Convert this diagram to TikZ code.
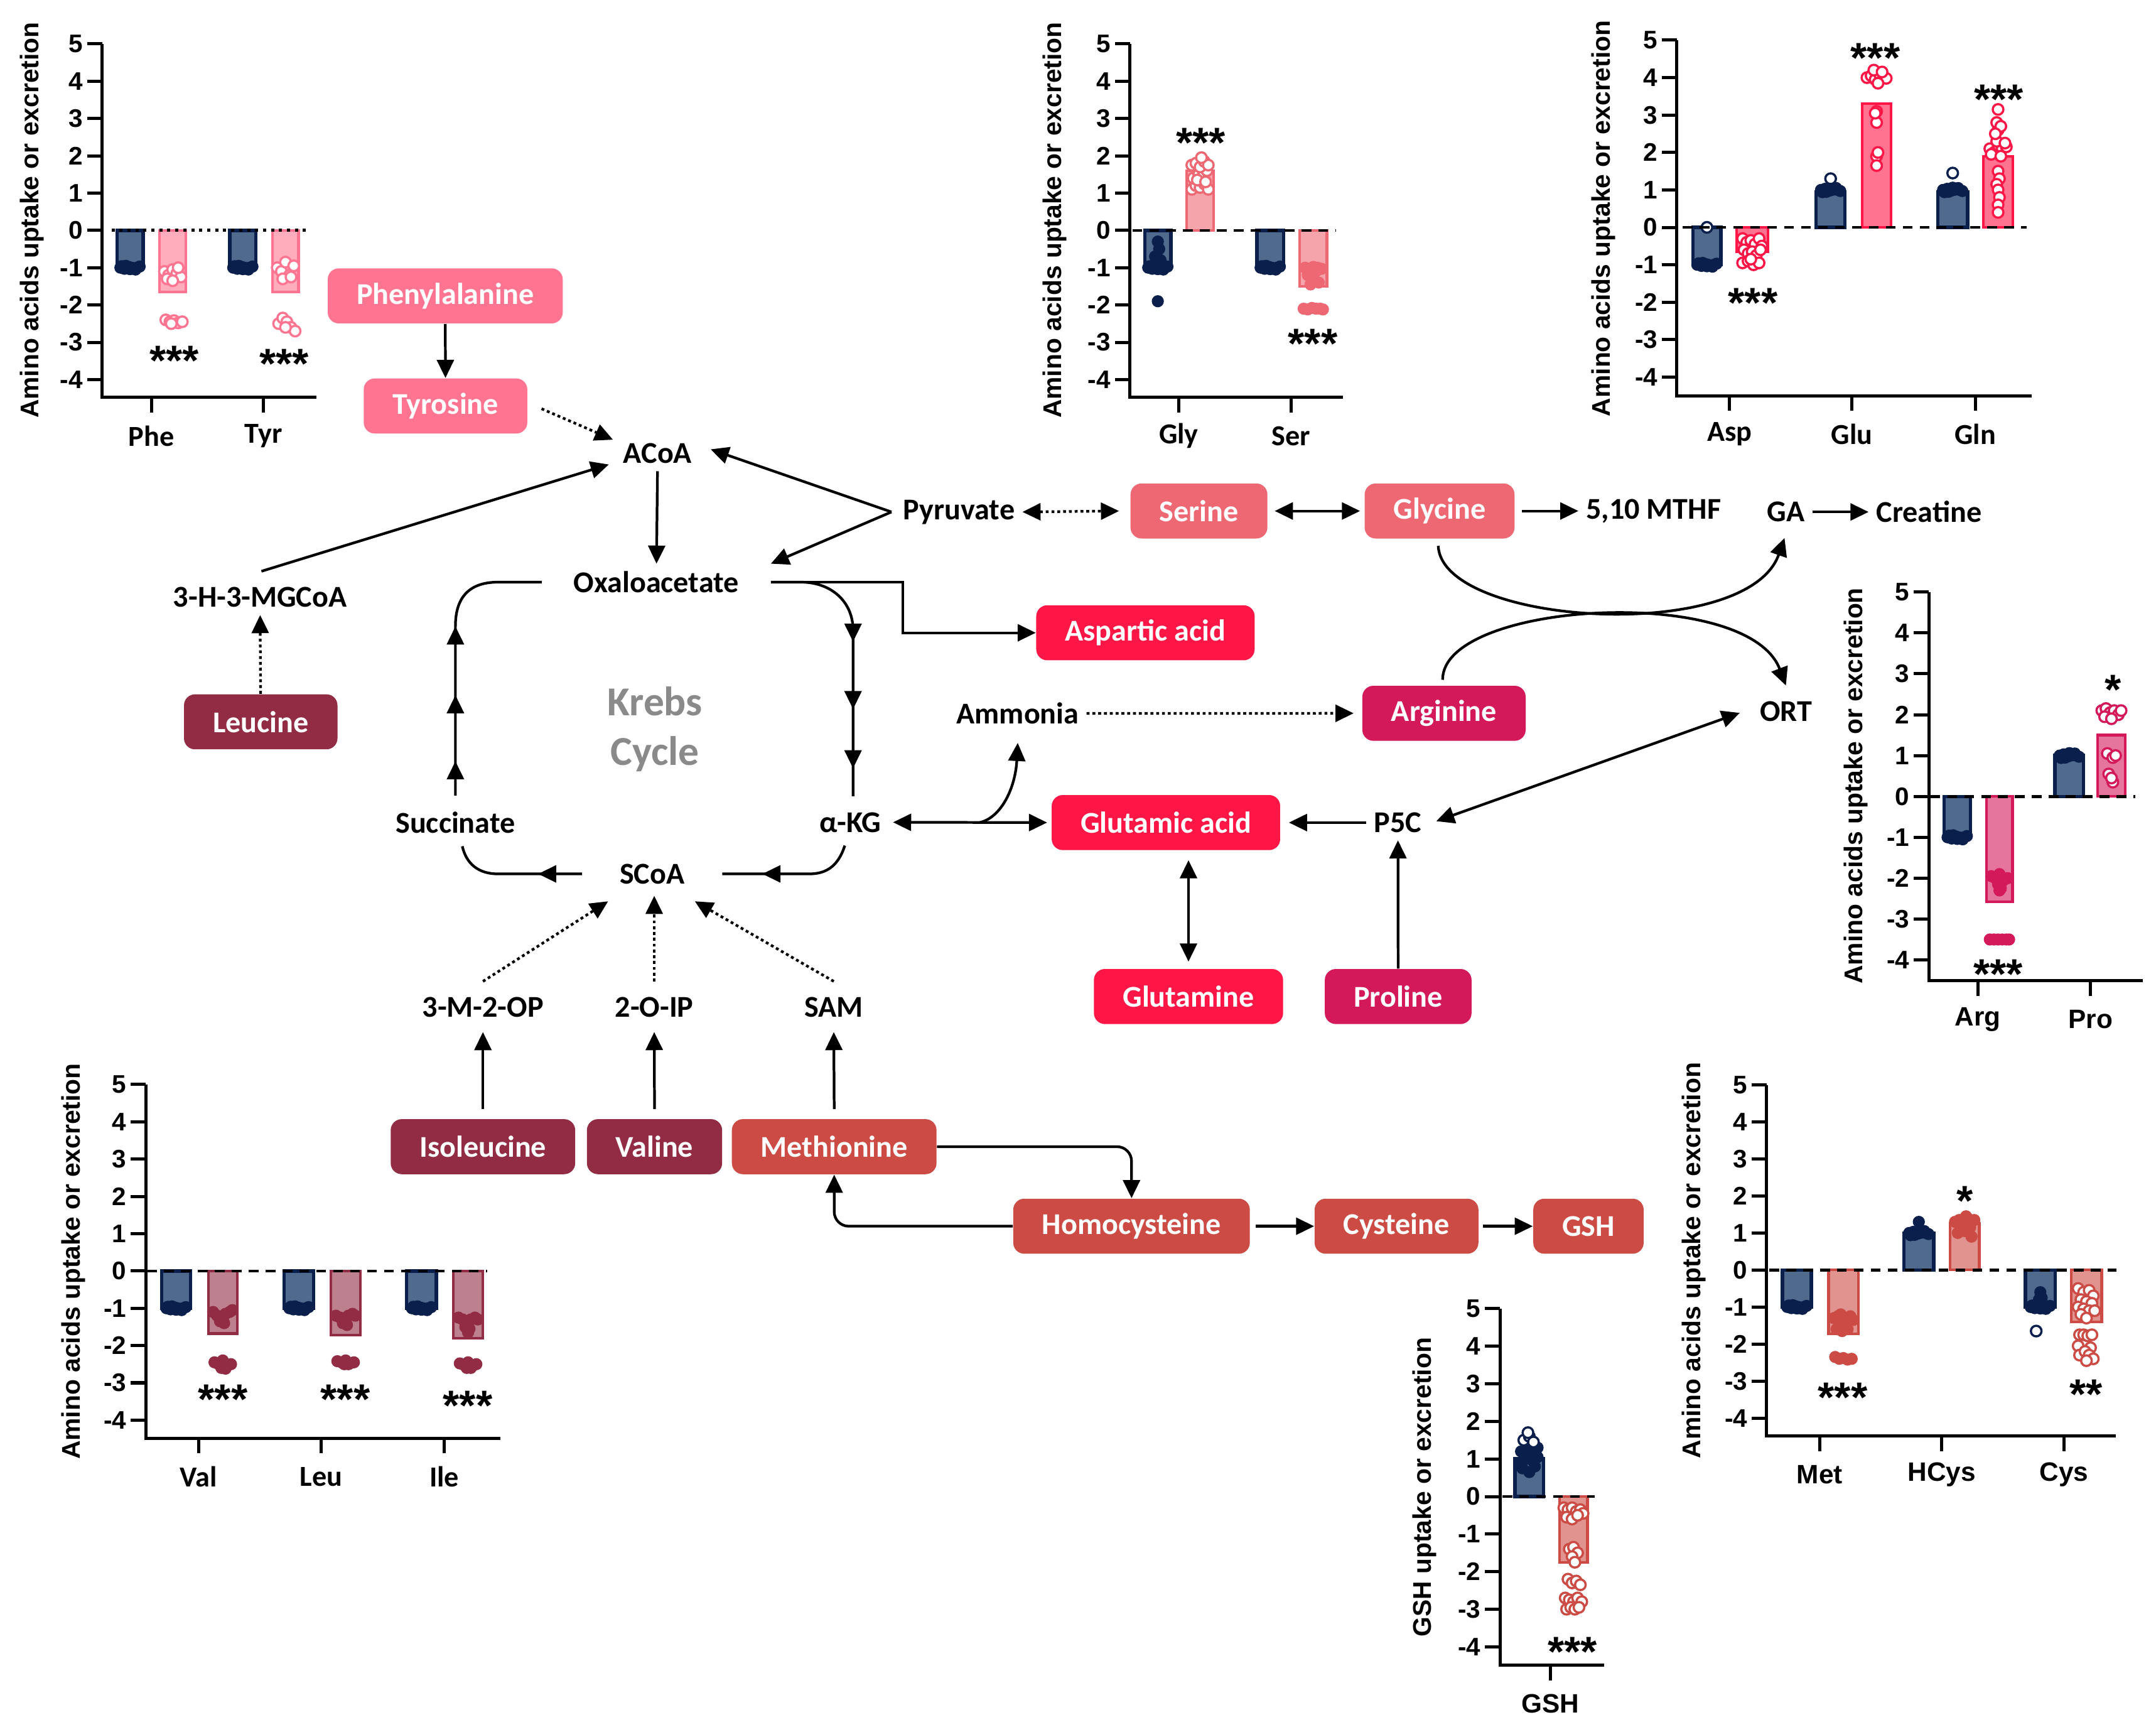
\documentclass[tikz,border=0pt]{standalone}
\usepackage{fontspec}
\setmainfont{Carlito}
\newfontfamily\chartfont{Liberation Sans}
\usetikzlibrary{arrows.meta,calc,decorations.markings}

\definecolor{pheC}{HTML}{FF7591}
\definecolor{serC}{HTML}{EE6873}
\definecolor{gluC}{HTML}{FE1646}
\definecolor{argC}{HTML}{D3195A}
\definecolor{bcaaC}{HTML}{912C44}
\definecolor{metC}{HTML}{CC4B44}
\definecolor{navyC}{HTML}{0B1F4D}
\definecolor{slateC}{HTML}{4F6A8D}
\definecolor{krebsC}{HTML}{8A8A8A}

\newcommand{\labelfont}{\fontsize{12.5}{15}\selectfont\bfseries}
\newcommand{\krebsfont}{\fontsize{17}{20.5}\selectfont\bfseries}
\newcommand{\tickfont}{\chartfont\fontsize{10.5}{12}\selectfont\bfseries}
\newcommand{\titlefont}{\chartfont\fontsize{10.6}{12}\selectfont\bfseries}
\newcommand{\catfont}{\fontsize{12}{14}\selectfont\bfseries}
\newcommand{\catfontb}{\chartfont\fontsize{11}{13}\selectfont\bfseries}
\newcommand{\starfont}{\chartfont\fontsize{17.5}{19}\selectfont\bfseries}

\tikzset{
  aabox/.style={rounded corners=0.16cm, minimum height=0.8cm, inner xsep=0.42cm, inner ysep=0pt, text=white, font=\labelfont},
  metab/.style={font=\labelfont, inner sep=3pt},
  arr/.style={line width=1.1pt, -{Triangle[length=7.5pt,width=7pt]}},
  dblarr/.style={line width=1.1pt, {Triangle[length=7.5pt,width=7pt]}-{Triangle[length=7.5pt,width=7pt]}},
  dotarr/.style={arr, dash pattern=on 1.2pt off 1.2pt},
  dotdbl/.style={dblarr, dash pattern=on 1.2pt off 1.2pt},
  krebsline/.style={line width=1.1pt},
  tipsat/.style={postaction={decorate, decoration={markings, mark=at position #1 with {\arrow{Triangle[length=7.5pt,width=7pt]}}}}},
  axisline/.style={line width=1.3pt},
  ticklabel/.style={anchor=east, inner sep=1pt, font=\tickfont},
  axtitle/.style={rotate=90, font=\titlefont},
  catA/.style={font=\catfont},
  catB/.style={font=\catfontb},
  stars/.style={anchor=base, font=\starfont, inner sep=0pt},
  zerodash/.style={line width=1.2pt, dash pattern=on 4pt off 3pt},
  zerodot/.style={line width=1.3pt, dash pattern=on 1.3pt off 2pt},
  ctrlbar/.style={draw=navyC, fill=slateC, line width=1.4pt},
  ctrldot/.style={draw=navyC, fill=navyC, line width=0.6pt},
  ctrlring/.style={draw=navyC, fill=white, line width=0.9pt},
  trtbar/.style={draw=#1, fill=#1!60, line width=1.1pt},
  trtdot/.style={draw=#1, fill=white, line width=0.9pt},
  trtblob/.style={draw=#1, fill=#1, line width=0.6pt},
}

% axes, ticks and tick labels of one chart
\newcommand{\chartaxes}[4]{%
  \draw[axisline] (#2,{\zy-\uu*5}) -- (#2,#3) -- (#4,#3);
  \foreach \tk in {-4,...,5}{
    \draw[axisline] ({#2-11},{\zy-\uu*(\tk)}) -- (#2,{\zy-\uu*(\tk)});
    \node[ticklabel] (#1-t\tk) at ({#2-12},{\zy-\uu*(\tk)}) {\tk};
  }}
\newcommand{\drawcat}[5]{%
  \draw[axisline] (#2,#3) -- (#2,{#3+11});
  \node[#5] (#1) at (#2,{#3+28}) {#4};}
\newcommand{\drawbar}[4]{\draw[#1] (#2,\zy) rectangle (#3,{\zy-\uu*(#4)});}
\newcommand{\drawdots}[3]{\edef\dotlist{#3}%
  \foreach \dx/\val in \dotlist {\draw[#1] ({#2+\dx},{\zy-\uu*(\val)}) circle[radius=2.2pt];}}

\def\ctrlneg{-7/-1,-4/-1.03,-1/-0.98,2/-1.02,5/-1,7/-0.97,-6/-0.96,4/-1.05,0/-1.04,-3/-0.95,1/-1}
\def\ctrlpos{-7/1,-4/1.03,-1/0.98,2/1.02,5/1,7/0.97,-6/0.94,4/1.05,0/1.06,-3/0.95,1/1}

\begin{document}
\begin{tikzpicture}[x=0.02cm, y=-0.02cm]
\fill[white] (0,0) rectangle (1567,1258.5);
\useasboundingbox (0,0) rectangle (1567,1258.5);

% pathway
\node[aabox, fill=pheC] (phe) at (323.6,215) {Phenylalanine};
\node[aabox, fill=pheC] (tyr) at (323.8,295) {Tyrosine};
\node[metab] (acoa) at (478,329.5) {ACoA};
\node[metab, inner xsep=0.46cm] (oxa) at (477,423) {Oxaloacetate};
\node[metab] (pyr) at (697,372) {Pyruvate};
\node[metab] (mgcoa) at (189,434) {3-H-3-MGCoA};
\node[aabox, fill=bcaaC] (leu) at (189.5,524.5) {Leucine};
\node[font=\krebsfont, text=krebsC, align=center] (krebs) at (476,530) {Krebs\\Cycle};
\node[metab] (succ) at (331,597.5) {Succinate};
\node[metab] (akg) at (618,597.5) {α-KG};
\node[metab, inner xsep=0.54cm] (scoa) at (474,635) {SCoA};
\node[metab] (m2op) at (351,732) {3-M-2-OP};
\node[metab] (oip) at (475.5,732) {2-O-IP};
\node[metab] (sam) at (606,732) {SAM};
\node[aabox, fill=bcaaC] (ile) at (351,833.2) {Isoleucine};
\node[aabox, fill=bcaaC] (val) at (475.7,833.2) {Valine};
\node[aabox, fill=metC] (met) at (606.3,833.2) {Methionine};
\node[aabox, fill=metC] (hcy) at (822.4,891) {Homocysteine};
\node[aabox, fill=metC] (cys) at (1015,891) {Cysteine};
\node[aabox, fill=metC] (gsh) at (1154.5,891) {GSH};
\node[aabox, fill=serC] (ser) at (871.4,371.3) {Serine};
\node[aabox, fill=serC] (gly) at (1046.3,371.3) {Glycine};
\node[metab] (mthf) at (1201.8,371.3) {5,10 MTHF};
\node[metab] (ga) at (1298,372) {GA};
\node[metab] (creat) at (1402,372) {Creatine};
\node[aabox, fill=gluC] (asp) at (832.5,459.8) {Aspartic acid};
\node[metab] (amm) at (739.7,518.4) {Ammonia};
\node[aabox, fill=argC] (arg) at (1049.5,518.3) {Arginine};
\node[metab] (ort) at (1298,517) {ORT};
\node[aabox, fill=gluC] (glu) at (847.4,597.7) {Glutamic acid};
\node[metab] (p5c) at (1016,597.7) {P5C};
\node[aabox, fill=gluC] (gln) at (863.8,724.1) {Glutamine};
\node[aabox, fill=argC] (pro) at (1016.2,724.1) {Proline};

\draw[arr] (phe) -- (tyr);
\draw[dotarr] ($(tyr.east)+(10,2)$) -- ($(acoa.west)+(-2,-10)$);
\draw[arr] ($(mgcoa.north)+(1,-6)$) -- ($(acoa.west)+(-5,8)$);
\draw[dotarr] (leu) -- (mgcoa);
\draw[arr] (acoa) -- (oxa);
\coordinate (pyrfork) at ($(pyr.west)+(-3,0)$);
\draw[arr] (pyrfork) -- ($(acoa.east)+(8,-3)$);
\draw[arr] (pyrfork) -- (oxa.north east);
\draw[dotdbl] (pyr.east) -- ($(ser.west)+(-8,0)$);
\draw[dblarr] ($(ser.east)+(5,0)$) -- ($(gly.west)+(-3,0)$);
\draw[arr] ($(gly.east)+(5,0)$) -- (mthf.west);
\draw[arr] (ga) -- (creat);
\draw[arr] ($(gly.south)+(-1,5)$) .. controls (1048,455) and (1270,468) .. ($(ga.south)+(-1,6)$);
\draw[arr] ($(arg.north)+(-1,-4)$) .. controls (1048,437) and (1270,424) .. ($(ort.north)+(0,-6)$);
\draw[arr] (oxa.east) -- ++(96,0) |- (asp.west);

% Krebs cycle
\draw[krebsline, tipsat=0.5cm, tipsat=1.46cm, tipsat=2.46cm] ($(succ.north)+(0,-6)$) -- (331,455) .. controls (331,433) and (342,423) .. (362,423) -- (oxa.west);
\draw[krebsline, tipsat=1.76cm, tipsat=2.74cm, tipsat=3.6cm] (oxa.east) -- (582,423) .. controls (604,423) and (620,437) .. (620,458) -- ($(akg.north)+(2,-6)$);
\draw[krebsline, tipsat=1.4cm] ($(akg.south)+(-4,4)$) .. controls (609,630) and (600,635) .. (588,635) -- (scoa.east);
\draw[krebsline, tipsat=0.64cm] (scoa.west) -- (362,635) .. controls (348,635) and (339,628) .. ($(succ.south)+(5,4)$);

\draw[dblarr] ($(akg.east)+(3,0)$) -- ($(glu.west)+(-3,0)$);
\coordinate (akgfork) at (712,597.7);
\draw[arr] (akgfork) .. controls (728,594) and (738,572) .. ($(amm.south)+(0,8)$);
\draw[dotarr] (amm.east) -- ($(arg.west)+(-6,0)$);
\draw[arr] (p5c.west) -- ($(glu.east)+(6,0)$);
\draw[dblarr] ($(p5c.east)+(5,-1)$) -- ($(ort.west)+(-9,1)$);
\draw[arr] (pro) -- (p5c);
\draw[dblarr] ($(glu.south -| gln.north)+(0,7)$) -- ($(gln.north)+(0,-5)$);
\draw[arr] ($(ile.north)+(0,-7)$) -- ($(m2op.south)+(0,5)$);
\draw[arr] ($(val.north)+(0,-7)$) -- ($(oip.south)+(0,5)$);
\draw[arr] ($(met.north)+(0,-7)$) -- ($(sam.south)+(0,5)$);
\draw[dotarr] ($(m2op.north)+(0,-6)$) -- ($(scoa.south)+(-32,7)$);
\draw[dotarr] ($(oip.north)+(0,-6)$) -- ($(scoa.south)+(1.5,3)$);
\draw[dotarr] ($(sam.north)+(0,-6)$) -- ($(scoa.south)+(31,7)$);
\draw[arr, rounded corners=6pt] (met.east) -| (hcy.north);
\draw[arr, rounded corners=6pt] (hcy.west) -| (met.south);
\draw[arr] ($(hcy.east)+(4,0)$) -- (cys.west);
\draw[arr] ($(cys.east)+(3,0)$) -- (gsh.west);

% chart Phe / Tyr
\begin{scope}
  \def\zy{167.4}\def\uu{27.1}
  \drawbar{ctrlbar}{85}{104}{-1}
  \drawbar{trtbar=pheC}{116}{135}{-1.65}
  \drawbar{ctrlbar}{167}{186}{-1}
  \drawbar{trtbar=pheC}{198}{217}{-1.65}
  \drawdots{ctrldot}{94.5}{\ctrlneg}
  \drawdots{trtdot=pheC}{125.5}{-6/-1.1,-3/-1.2,0/-1.05,3/-1.15,6/-1.25,-4/-1.3,4/-1.0,0/-1.35,-5/-2.4,-2/-2.45,1/-2.42,4/-2.48,7/-2.45,-1/-2.5}
  \drawdots{ctrldot}{176.5}{\ctrlneg}
  \drawdots{trtdot=pheC}{207.5}{-6/-1.0,-3/-1.1,0/-0.85,3/-1.2,6/-0.95,-2/-1.3,4/-1.25,-5/-2.5,-2/-2.35,1/-2.45,4/-2.6,7/-2.7,0/-2.6}
  \draw[zerodot] (81,\zy) -- (224,\zy);
  \chartaxes{a}{74.2}{288.7}{230}
  \drawcat{a-phe}{110}{288.7}{Phe}{catA}
  \drawcat{a-tyr}{191.5}{288.7}{Tyr}{catA}
  \node[stars] (a-s1) at (126.6,272.6) {***};
  \node[stars] (a-s2) at (206.6,274.8) {***};
  \node[axtitle] (a-title) at (23.3,160) {Amino acids uptake or excretion};
\end{scope}

% chart Gly / Ser
\begin{scope}
  \def\zy{167.4}\def\uu{27.1}
  \drawbar{ctrlbar}{832}{851}{-1}
  \drawbar{trtbar=serC}{862.5}{882}{1.6}
  \drawbar{ctrlbar}{913.5}{933}{-1}
  \drawbar{trtbar=serC}{944.6}{964.4}{-1.5}
  \drawdots{ctrldot}{841.5}{\ctrlneg,0/-0.3,1/-0.5,-2/-0.7,2/-0.8,0/-1.9}
  \drawdots{trtdot=serC}{872.2}{-6/1.1,-3/1.2,0/1.15,3/1.25,6/1.1,-5/1.4,-1/1.5,2/1.45,5/1.6,-6/1.75,-3/1.8,0/1.7,3/1.85,6/1.75,1/1.95,-2/1.35,4/1.3}
  \drawdots{ctrldot}{923.2}{\ctrlneg}
  \drawdots{trtblob=serC}{954.5}{-7/-2.1,-4/-2.12,-1/-2.08,2/-2.1,5/-2.1,7/-2.12,-6/-1,-3/-1.02,0/-0.98,3/-1,6/-1.03,-4/-1.2,0/-1.3,4/-1.4,-2/-1.45,2/-1.1}
  \draw[zerodash] (823,\zy) -- (971,\zy);
  \chartaxes{b}{821.2}{288.7}{976}
  \drawcat{b-gly}{856.7}{288.7}{Gly}{catA}
  \drawcat{b-ser}{938.2}{288.7}{Ser}{catA}
  \node[stars] (b-s1) at (872.7,114.4) {***};
  \node[stars] (b-s2) at (954.2,260.4) {***};
  \node[axtitle] (b-title) at (766.5,160) {Amino acids uptake or excretion};
\end{scope}

% chart Asp / Glu / Gln
\begin{scope}
  \def\zy{165.2}\def\uu{27.2}
  \drawbar{ctrlbar}{1230.5}{1250.8}{-1}
  \drawbar{trtbar=gluC}{1262.2}{1284.8}{-0.65}
  \drawbar{ctrlbar}{1320}{1341}{0.95}
  \drawbar{trtbar=gluC}{1353.3}{1374.5}{3.3}
  \drawbar{ctrlbar}{1408.5}{1430}{0.95}
  \drawbar{trtbar=gluC}{1441.6}{1462.8}{1.9}
  \drawdots{ctrldot}{1240.6}{\ctrlneg}
  \drawdots{ctrlring}{1240.6}{0/0}
  \drawdots{trtdot=gluC}{1273.5}{-7/-0.3,-4/-0.4,-1/-0.35,2/-0.45,5/-0.3,7/-0.5,-6/-0.6,-3/-0.7,0/-0.65,3/-0.75,6/-0.6,-7/-0.95,-3/-0.9,1/-1.0,5/-0.95,-1/-0.85}
  \drawdots{ctrldot}{1330.5}{\ctrlpos}
  \drawdots{ctrlring}{1330.5}{0/1.3}
  \drawdots{trtdot=gluC}{1363.9}{-7/4.0,-4/4.05,-1/3.95,2/4.1,5/4.0,7/3.98,-2/4.2,1/3.85,4/4.15,0/3.1,0/2.8,0/1.9,0/1.65,-1/3.05,1/2.0}
  \drawdots{ctrldot}{1419.2}{\ctrlpos}
  \drawdots{ctrlring}{1419.2}{0/1.45}
  \drawdots{trtdot=gluC}{1452.2}{-6/2.1,-3/2.0,0/2.2,3/2.1,6/2.15,-5/1.95,-1/2.3,2/1.9,5/2.25,0/2.6,-1/2.8,2/2.7,0/3.15,-2/2.5,0/1.5,1/1.3,-1/1.15,0/1.0,1/0.8,0/0.6,0/0.4}
  \draw[zerodash] (1223,\zy) -- (1473,\zy);
  \chartaxes{c}{1218.8}{287.6}{1476.4}
  \drawcat{c-asp}{1257}{287.6}{Asp}{catA}
  \drawcat{c-glu}{1346}{287.6}{Glu}{catA}
  \drawcat{c-gln}{1435.7}{287.6}{Gln}{catA}
  \node[stars] (c-s1) at (1274,230.6) {***};
  \node[stars] (c-s2) at (1363,52.5) {***};
  \node[stars] (c-s3) at (1452.8,83) {***};
  \node[axtitle] (c-title) at (1165.2,158.7) {Amino acids uptake or excretion};
\end{scope}

% chart Arg / Pro
\begin{scope}
  \def\zy{578.7}\def\uu{29.7}
  \drawbar{ctrlbar}{1413}{1432}{-1}
  \drawbar{trtbar=argC}{1443.7}{1462.7}{-2.58}
  \drawbar{ctrlbar}{1493.5}{1514.4}{1}
  \drawbar{trtbar=argC}{1524.5}{1544.7}{1.5}
  \drawdots{ctrldot}{1422.5}{\ctrlneg}
  \drawdots{trtblob=argC}{1453.2}{-6/-1.95,-3/-2.0,0/-1.9,3/-2.05,6/-2.0,-1/-2.15,1/-2.25,0/-2.3,-7/-3.5,-4/-3.5,-1/-3.5,2/-3.5,5/-3.5,7/-3.5}
  \drawdots{ctrldot}{1504}{\ctrlpos}
  \drawdots{trtdot=argC}{1534.6}{-7/2.1,-4/2.15,-1/2.05,2/2.1,5/2.0,7/2.1,-5/1.95,0/1.9,-3/1.05,1/0.95,3/1.0,-2/0.55,1/0.35,0/0.45}
  \draw[zerodash] (1403,\zy) -- (1552,\zy);
  \chartaxes{d}{1401.8}{712.6}{1557.2}
  \drawcat{d-arg}{1437.5}{712.6}{Arg}{catB}
  \drawcat{d-pro}{1519.4}{712.6}{Pro}{catB}
  \node[stars] (d-s1) at (1452.3,718.4) {***};
  \node[stars] (d-s2) at (1535.9,511.8) {*};
  \node[axtitle] (d-title) at (1349,571) {Amino acids uptake or excretion};
\end{scope}

% chart Val / Leu / Ile
\begin{scope}
  \def\zy{923.5}\def\uu{27.1}
  \drawbar{ctrlbar}{117.5}{138.5}{-1}
  \drawbar{trtbar=bcaaC}{151.4}{172.4}{-1.68}
  \drawbar{ctrlbar}{206.6}{228}{-1}
  \drawbar{trtbar=bcaaC}{240.5}{261.8}{-1.72}
  \drawbar{ctrlbar}{295.6}{317.2}{-1}
  \drawbar{trtbar=bcaaC}{329.5}{350.8}{-1.8}
  \drawdots{ctrldot}{128}{\ctrlneg}
  \drawdots{trtblob=bcaaC}{161.9}{-7/-1.1,-4/-1.2,-1/-1.25,2/-1.15,5/-1.1,7/-1.05,-2/-1.35,1/-1.4,0/-1.3,-6/-2.45,-3/-2.5,0/-2.4,3/-2.55,6/-2.5,-1/-2.6,2/-2.62}
  \drawdots{ctrldot}{217.3}{\ctrlneg}
  \drawdots{trtblob=bcaaC}{251.2}{-7/-1.2,-4/-1.25,-1/-1.3,2/-1.2,5/-1.15,7/-1.2,-2/-1.4,1/-1.45,0/-1.35,-6/-2.42,-3/-2.45,0/-2.4,3/-2.48,6/-2.45,-1/-2.5,2/-2.5}
  \drawdots{ctrldot}{306.4}{\ctrlneg}
  \drawdots{trtblob=bcaaC}{340.2}{-7/-1.25,-4/-1.3,-1/-1.35,2/-1.3,5/-1.25,7/-1.3,-2/-1.5,1/-1.55,0/-1.65,-6/-2.48,-3/-2.52,0/-2.45,3/-2.55,6/-2.5,-1/-2.6,2/-2.6}
  \draw[zerodash] (107,\zy) -- (354,\zy);
  \chartaxes{e}{105.9}{1045}{363.7}
  \drawcat{e-val}{144.2}{1045}{Val}{catA}
  \drawcat{e-leu}{233.3}{1045}{Leu}{catA}
  \drawcat{e-ile}{322.9}{1045}{Ile}{catA}
  \node[stars] (e-s1) at (162,1027.3) {***};
  \node[stars] (e-s2) at (251,1027.3) {***};
  \node[stars] (e-s3) at (340,1032) {***};
  \node[axtitle] (e-title) at (53.2,916.5) {Amino acids uptake or excretion};
\end{scope}

% chart GSH
\begin{scope}
  \def\zy{1087.4}\def\uu{27.3}
  \drawbar{ctrlbar}{1101.1}{1121.8}{1}
  \drawbar{trtbar=metC}{1133.4}{1153.8}{-1.75}
  \drawdots{ctrldot}{1111.5}{0/1.0,-6/0.9,-3/1.0,3/0.95,6/1.05,-6/1.2,-2/1.3,2/1.25,6/1.3,-5/0.75,0/0.65,4/0.8}
  \drawdots{ctrlring}{1111.5}{-4/1.5,0/1.6,3/1.45,-1/1.7}
  \drawdots{trtdot=metC}{1143.6}{-7/-0.3,-4/-0.35,-1/-0.3,2/-0.4,5/-0.35,7/-0.45,-5/-0.55,-1/-0.6,3/-0.5,-3/-1.4,0/-1.35,3/-1.5,-1/-1.6,1/-1.75,-4/-2.2,-1/-2.3,2/-2.25,5/-2.35,-6/-2.7,-3/-2.75,0/-2.8,3/-2.7,6/-2.8,-5/-3.0,-2/-2.95,1/-3.0,4/-2.95}
  \draw[zerodash] (1092,\zy) -- (1159,\zy);
  \chartaxes{f}{1090.2}{1210}{1165.7}
  \drawcat{f-gsh}{1126.8}{1210}{GSH}{catB}
  \node[stars] (f-s1) at (1142.9,1211) {***};
  \node[axtitle] (f-title) at (1035.2,1080.6) {GSH uptake or excretion};
\end{scope}

% chart Met / HCys / Cys
\begin{scope}
  \def\zy{922.8}\def\uu{26.9}
  \drawbar{ctrlbar}{1295.5}{1316.5}{-1}
  \drawbar{trtbar=metC}{1329}{1350.7}{-1.72}
  \drawbar{ctrlbar}{1383.8}{1405.5}{1}
  \drawbar{trtbar=metC}{1417.3}{1438.5}{1.25}
  \drawbar{ctrlbar}{1472}{1493.8}{-1}
  \drawbar{trtbar=metC}{1505.4}{1527.5}{-1.4}
  \drawdots{ctrldot}{1306}{\ctrlneg}
  \drawdots{trtblob=metC}{1339.8}{-7/-1.3,-4/-1.25,-1/-1.35,2/-1.3,5/-1.25,7/-1.35,-2/-1.2,-5/-1.6,-1/-1.65,3/-1.6,-6/-2.35,-3/-2.4,0/-2.38,3/-2.42,6/-2.4}
  \drawdots{ctrldot}{1394.6}{\ctrlpos,0/1.3}
  \drawdots{trtblob=metC}{1427.9}{-7/1.3,-4/1.35,-1/1.25,2/1.4,5/1.3,7/1.35,-3/1.2,1/1.45,4/1.15,-5/1.0,5/0.9,0/1.05}
  \drawdots{ctrldot}{1482.9}{\ctrlneg,0/-0.6,1/-0.75,-1/-0.8}
  \drawdots{ctrlring}{1482.9}{-3/-1.65}
  \drawdots{trtdot=metC}{1516.4}{-6/-0.5,-2/-0.6,2/-0.55,5/-0.7,-4/-0.8,0/-0.85,4/-0.9,-6/-1.0,-2/-1.05,2/-1.1,6/-1.1,-4/-1.2,0/-1.3,-5/-1.75,-2/-1.75,1/-1.78,4/-1.75,-6/-2.05,3/-2.1,-5/-2.3,-1/-2.2,2/-2.3,5/-2.4,0/-2.45}
  \draw[zerodash] (1286,\zy) -- (1538,\zy);
  \chartaxes{g}{1284}{1043.4}{1537.8}
  \drawcat{g-met}{1322.6}{1043.4}{Met}{catB}
  \drawcat{g-hcys}{1411.2}{1043.4}{HCys}{catB}
  \drawcat{g-cys}{1500.2}{1043.4}{Cys}{catB}
  \node[stars] (g-s1) at (1339.3,1026.1) {***};
  \node[stars] (g-s2) at (1428.3,883) {*};
  \node[stars] (g-s3) at (1516.1,1023.8) {**};
  \node[axtitle] (g-title) at (1230.9,915.9) {Amino acids uptake or excretion};
\end{scope}
\end{tikzpicture}
\end{document}
